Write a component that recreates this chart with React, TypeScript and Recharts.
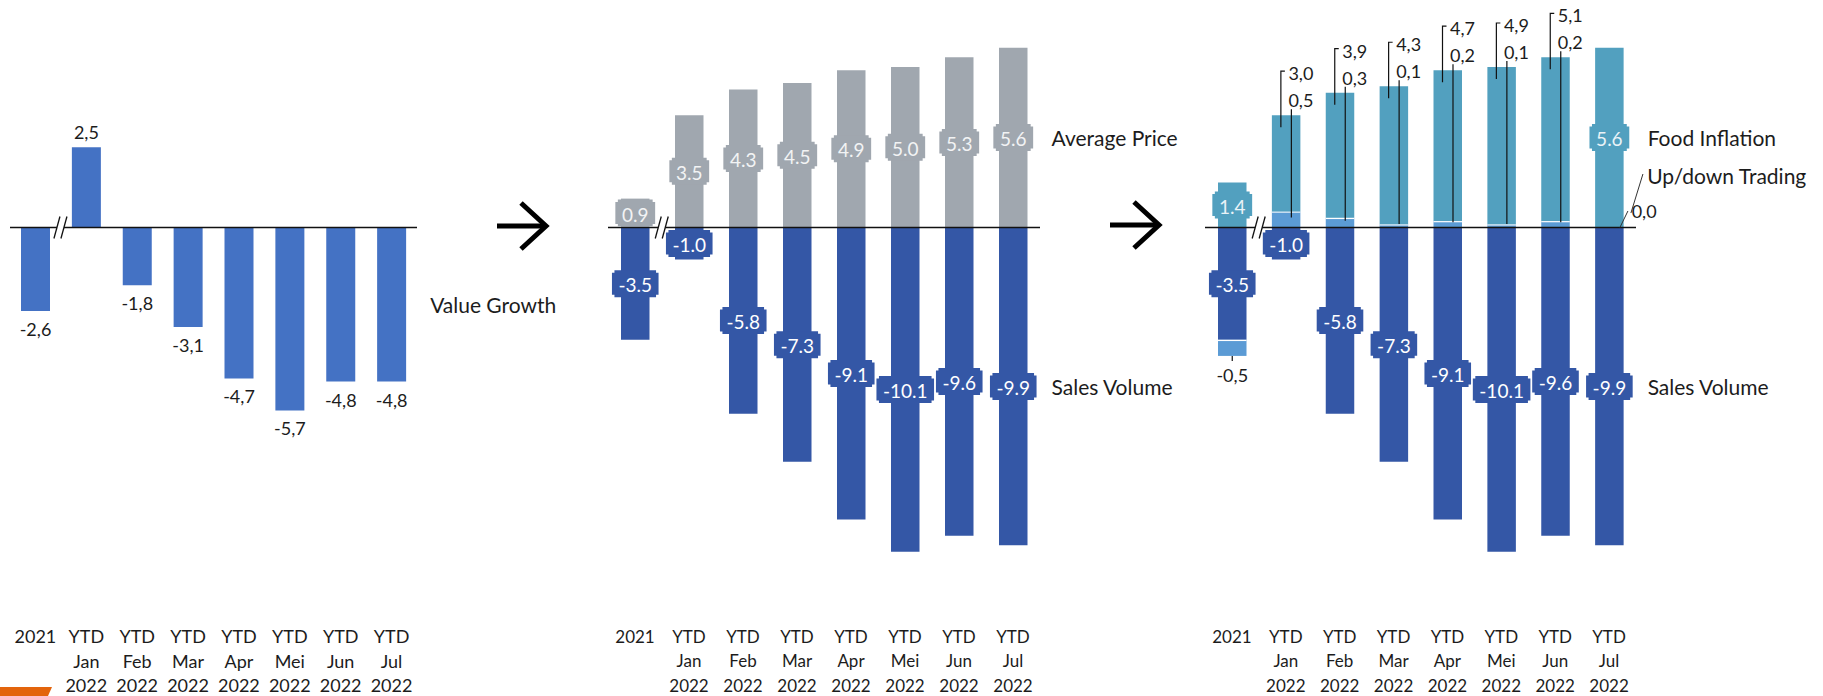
import React from 'react';
import { BarChart, Bar, XAxis, YAxis, ReferenceLine, LabelList } from 'recharts';

// categories and series values
const categories = [
  '2021',
  'YTD Jan 2022',
  'YTD Feb 2022',
  'YTD Mar 2022',
  'YTD Apr 2022',
  'YTD Mei 2022',
  'YTD Jun 2022',
  'YTD Jul 2022',
];
const valueGrowth = [-2.6, 2.5, -1.8, -3.1, -4.7, -5.7, -4.8, -4.8];
const averagePrice = [0.9, 3.5, 4.3, 4.5, 4.9, 5.0, 5.3, 5.6];
const salesVolume = [-3.5, -1.0, -5.8, -7.3, -9.1, -10.1, -9.6, -9.9];
const foodInflation = [1.4, 3.0, 3.9, 4.3, 4.7, 4.9, 5.1, 5.6];
const upDownTrading = [-0.5, 0.5, 0.3, 0.1, 0.2, 0.1, 0.2, 0.0];

const data = categories.map((cat, i) => ({
  cat,
  valueGrowth: valueGrowth[i],
  averagePrice: averagePrice[i],
  salesVolume: salesVolume[i],
  foodInflation: foodInflation[i],
  upDownTrading: upDownTrading[i],
}));

const FONT = 'Lato, "Noto Sans", sans-serif';
const TEXT = '#1c1c1c';
const VG_BLUE = '#4472C4';
const GRAY = '#A0A7AF';
const NAVY = '#3457A6';
const TEAL = '#52A0BF';
const LIGHT = '#5B9BD5';

const H = 696;
const AXIS_H = 76;
const Y_DOMAIN: [number, number] = [-12.227, 7.087];
const LAST = categories.length - 1;

const fmtDot = (v: number) => v.toFixed(1);
const fmtComma = (v: number) => v.toFixed(1).replace('.', ',');

// bar geometry from label props (viewBox in recharts 3, flat props otherwise)
const geom = (p: any) => {
  const v = p.viewBox && typeof p.viewBox.width === 'number' ? p.viewBox : p;
  const x = Number(v.x);
  const y = Number(v.y);
  const w = Number(v.width);
  const h = Number(v.height);
  return {
    x,
    w,
    cx: x + w / 2,
    right: x + w,
    top: Math.min(y, y + h),
    bottom: Math.max(y, y + h),
  };
};

const charW = (s: string) =>
  [...s].reduce((a, c) => a + (c === '.' || c === ',' ? 4.8 : c === '-' ? 6.8 : 11), 0);

const BoxLabel = ({ cx, cy, text, fill, color }: any) => {
  const w = charW(text) + 13;
  const h = 27;
  const x = cx - w / 2;
  const y = cy - h / 2;
  const n = 2.5;
  const d = `M${x + n},${y}H${x + w - n}V${y + n}H${x + w}V${y + h - n}H${x + w - n}V${y + h}H${x + n}V${y + h - n}H${x}V${y + n}H${x + n}Z`;
  return (
    <g>
      <path d={d} fill={fill} />
      <text x={cx} y={cy + 1} textAnchor="middle" dominantBaseline="central" fontSize={19} fill={color} fontFamily={FONT}>
        {text}
      </text>
    </g>
  );
};

const SeriesName = ({ x, y, text }: any) => (
  <text x={x} y={y} dominantBaseline="central" fontSize={21} fill={TEXT} fontFamily={FONT}>
    {text}
  </text>
);

const BreakMark = ({ cx, cy }: any) => (
  <g>
    <polygon points={`${cx - 7},${cy + 11} ${cx - 1},${cy - 11} ${cx + 6},${cy - 11} ${cx},${cy + 11}`} fill="#fff" />
    <line x1={cx - 7} y1={cy + 11} x2={cx - 1} y2={cy - 11} stroke="#111" strokeWidth={1.3} />
    <line x1={cx} y1={cy + 11} x2={cx + 6} y2={cy - 11} stroke="#111" strokeWidth={1.3} />
  </g>
);

const CategoryTick = ({ x, y, payload, size }: any) => {
  const rows = String(payload.value).split(' ');
  return (
    <g>
      {rows.map((r, k) => (
        <text
          key={k}
          x={x}
          y={y + 16 + k * 24.6}
          textAnchor="middle"
          dominantBaseline="central"
          fontSize={size}
          fill={TEXT}
          fontFamily={FONT}
        >
          {r}
        </text>
      ))}
    </g>
  );
};

const UpDownShape = (p: any) => {
  const top = Math.min(p.y, p.y + p.height);
  const h = Math.abs(p.height);
  if (!h) return <g />;
  return (
    <g>
      <rect x={p.x} y={top} width={p.width} height={h} fill={LIGHT} />
      <line x1={p.x} x2={p.x + p.width} y1={top + 0.6} y2={top + 0.6} stroke="#fff" strokeWidth={1.2} />
    </g>
  );
};

interface PanelProps {
  left: number;
  width: number;
  ml: number;
  mr: number;
  tickSize: number;
  children: React.ReactNode;
}

const Panel = ({ left, width, ml, mr, tickSize, children }: PanelProps) => (
  <div style={{ position: 'absolute', left, top: 0 }}>
    <BarChart
      width={width}
      height={H}
      data={data}
      stackOffset="sign"
      margin={{ top: 0, right: mr, bottom: 0, left: ml }}
    >
      <XAxis
        dataKey="cat"
        interval={0}
        height={AXIS_H}
        axisLine={false}
        tickLine={false}
        tickSize={0}
        tickMargin={0}
        tick={<CategoryTick size={tickSize} />}
      />
      <YAxis hide type="number" domain={Y_DOMAIN} allowDataOverflow />
      {children}
      <ReferenceLine y={0} stroke="#111" strokeWidth={1.5} />
    </BarChart>
  </div>
);

const breakAt = (g: any, plotW: number, barW: number) => {
  const band = plotW / categories.length;
  return <BreakMark cx={g.right + (band - barW) / 2} cy={g.top} />;
};

const Arrow = ({ x, y }: any) => (
  <g stroke="#000" strokeWidth={5} fill="none">
    <line x1={x} y1={y} x2={x + 48} y2={y} />
    <polyline points={`${x + 24},${y - 23} ${x + 49},${y} ${x + 24},${y + 23}`} strokeLinejoin="miter" />
  </g>
);

export default function App() {
  return (
    <div
      style={{
        position: 'absolute',
        left: 0,
        top: 0,
        width: 1823,
        height: 696,
        overflow: 'hidden',
        background: '#fff',
      }}
    >
      {/* Value growth */}
      <Panel left={0} width={600} ml={10} mr={183} tickSize={18}>
        <Bar dataKey="valueGrowth" fill={VG_BLUE} barSize={29} isAnimationActive={false}>
          <LabelList
            dataKey="valueGrowth"
            content={(p: any) => {
              const g = geom(p);
              const i = p.index;
              const v = valueGrowth[i];
              const ly = v >= 0 ? g.top - 15 : g.bottom + 18;
              return (
                <g>
                  <text x={g.cx} y={ly} textAnchor="middle" dominantBaseline="central" fontSize={18} fill={TEXT} fontFamily={FONT}>
                    {fmtComma(v)}
                  </text>
                  {i === 0 && breakAt(g, 407, 29)}
                  {i === LAST && <SeriesName x={g.right + 24} y={(g.top + g.bottom) / 2} text="Value Growth" />}
                </g>
              );
            }}
          />
        </Bar>
      </Panel>

      {/* Average price + sales volume */}
      <Panel left={580} width={620} ml={28} mr={160} tickSize={17}>
        <Bar dataKey="averagePrice" stackId="s" fill={GRAY} barSize={28.5} isAnimationActive={false}>
          <LabelList
            dataKey="averagePrice"
            content={(p: any) => {
              const g = geom(p);
              const i = p.index;
              const cy = (g.top + g.bottom) / 2;
              return (
                <g>
                  <BoxLabel cx={g.cx} cy={cy} text={fmtDot(averagePrice[i])} fill={GRAY} color="#F2F3F4" />
                  {i === LAST && <SeriesName x={g.right + 24} y={cy} text="Average Price" />}
                </g>
              );
            }}
          />
        </Bar>
        <Bar dataKey="salesVolume" stackId="s" fill={NAVY} barSize={28.5} isAnimationActive={false}>
          <LabelList
            dataKey="salesVolume"
            content={(p: any) => {
              const g = geom(p);
              const i = p.index;
              const cy = (g.top + g.bottom) / 2;
              return (
                <g>
                  {i === 0 && breakAt(g, 432, 28.5)}
                  <BoxLabel cx={g.cx} cy={cy} text={fmtDot(salesVolume[i])} fill={NAVY} color="#fff" />
                  {i === LAST && <SeriesName x={g.right + 24} y={cy} text="Sales Volume" />}
                </g>
              );
            }}
          />
        </Bar>
      </Panel>

      {/* Food inflation + up/down trading + sales volume */}
      <Panel left={1180} width={643} ml={25} mr={187} tickSize={17}>
        <Bar dataKey="salesVolume" stackId="s" fill={NAVY} barSize={28.5} isAnimationActive={false}>
          <LabelList
            dataKey="salesVolume"
            content={(p: any) => {
              const g = geom(p);
              const i = p.index;
              const cy = (g.top + g.bottom) / 2;
              return (
                <g>
                  {i === 0 && breakAt(g, 431, 28.5)}
                  <BoxLabel cx={g.cx} cy={cy} text={fmtDot(salesVolume[i])} fill={NAVY} color="#fff" />
                  {i === LAST && <SeriesName x={g.right + 24} y={cy} text="Sales Volume" />}
                </g>
              );
            }}
          />
        </Bar>
        <Bar dataKey="upDownTrading" stackId="s" fill={LIGHT} barSize={28.5} shape={UpDownShape} isAnimationActive={false}>
          <LabelList
            dataKey="upDownTrading"
            content={(p: any) => {
              const g = geom(p);
              const i = p.index;
              const v = upDownTrading[i];
              if (!(v < 0)) return <g />;
              return (
                <g>
                  <line x1={g.cx} x2={g.cx} y1={g.bottom} y2={g.bottom + 5} stroke="#111" strokeWidth={1.2} />
                  <text x={g.cx} y={g.bottom + 19} textAnchor="middle" dominantBaseline="central" fontSize={18} fill={TEXT} fontFamily={FONT}>
                    {fmtComma(v)}
                  </text>
                </g>
              );
            }}
          />
        </Bar>
        <Bar dataKey="foodInflation" stackId="s" fill={TEAL} barSize={28.5} isAnimationActive={false}>
          <LabelList
            dataKey="foodInflation"
            content={(p: any) => {
              const g = geom(p);
              const i = p.index;
              const food = foodInflation[i];
              const ud = upDownTrading[i];
              const ppu = (g.bottom - g.top) / food;
              const baseline = g.bottom + Math.max(ud, 0) * ppu;
              const cy = (g.top + g.bottom) / 2;
              if (ud > 0) {
                const lx = g.x + 9;
                const ux = g.x + 19.5;
                const uEnd = (g.bottom + baseline) / 2 - 2;
                return (
                  <g>
                    <polyline
                      points={`${lx},${g.top + 12} ${lx},${g.top - 44} ${lx + 4},${g.top - 44}`}
                      fill="none"
                      stroke="#111"
                      strokeWidth={1.2}
                    />
                    <line x1={ux} x2={ux} y1={g.top - 6} y2={uEnd} stroke="#111" strokeWidth={1.2} />
                    <text x={g.x + 16.5} y={g.top - 42} dominantBaseline="central" fontSize={18} fill={TEXT} fontFamily={FONT}>
                      {fmtComma(food)}
                    </text>
                    <text x={g.x + 16.5} y={g.top - 15} dominantBaseline="central" fontSize={18} fill={TEXT} fontFamily={FONT}>
                      {fmtComma(ud)}
                    </text>
                  </g>
                );
              }
              return (
                <g>
                  <BoxLabel cx={g.cx} cy={cy} text={fmtDot(food)} fill={TEAL} color="#EAF3F7" />
                  {i === LAST && (
                    <g>
                      <SeriesName x={g.right + 24} y={cy} text="Food Inflation" />
                      <line x1={g.right - 3.7} y1={baseline} x2={g.right + 4.3} y2={baseline - 16.5} stroke="#333" strokeWidth={1} />
                      <text x={g.right + 8} y={baseline - 16.5} dominantBaseline="central" fontSize={18} fill={TEXT} fontFamily={FONT}>
                        {fmtComma(ud)}
                      </text>
                      <line x1={g.right + 7.3} y1={baseline - 14.5} x2={g.right + 19.3} y2={baseline - 53.5} stroke="#333" strokeWidth={1} />
                      <SeriesName x={g.right + 23.5} y={baseline - 52.5} text="Up/down Trading" />
                    </g>
                  )}
                </g>
              );
            }}
          />
        </Bar>
      </Panel>

      {/* arrows between panels and the cut-off logo corner */}
      <svg width={1823} height={696} style={{ position: 'absolute', left: 0, top: 0, pointerEvents: 'none' }}>
        <Arrow x={497} y={226} />
        <Arrow x={1110} y={225} />
        <polygon points="0,687 52,687 48,696 0,696" fill="#E3640C" />
      </svg>
    </div>
  );
}
